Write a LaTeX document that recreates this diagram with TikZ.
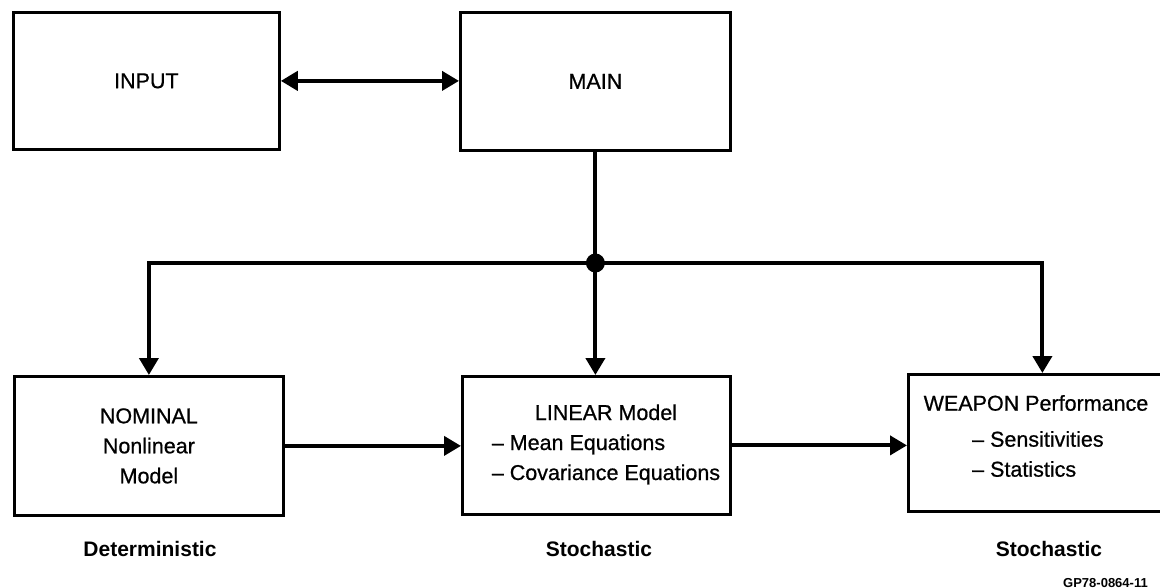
\documentclass[tikz,border=0pt]{standalone}
\usepackage{fontspec}
\setmainfont{Liberation Sans}
\newfontfamily\medfont[FakeBold=0.7]{Liberation Sans}
\usetikzlibrary{arrows.meta}
\begin{document}
\begin{tikzpicture}[x=1pt,y=-1pt,
  box/.style={draw=black, line width=2.8pt, inner sep=0pt, anchor=north west,
    font=\medfont\fontsize{21.5}{30}\selectfont, align=center},
  txt/.style={inner sep=0pt, font=\medfont\fontsize{21.5}{30}\selectfont},
  lbl/.style={inner sep=0pt, font=\fontsize{21}{25}\selectfont\bfseries},
  tip/.tip={Triangle[length=17pt,width=19pt]},
  conn/.style={line width=4pt, -tip},
  dconn/.style={line width=4pt, tip-tip},
  bus/.style={line width=4pt}]
\useasboundingbox (0,0) rectangle (1160,588);
% boxes
\node[box, minimum width=266pt, minimum height=137pt] (input) at (12,11) {INPUT};
\node[box, minimum width=270pt, minimum height=138pt] (main) at (459,11) {MAIN};
\node[box, minimum width=269pt, minimum height=139pt] (nominal) at (13,375) {NOMINAL\\Nonlinear\\Model};
\node[box, minimum width=268pt, minimum height=138pt] (linear) at (461,375) {};
\node[box, minimum width=268pt, minimum height=137pt] (weapon) at (907,373) {};
% box texts
\node[txt] (ltext) at (606,444) {\begin{tabular}{@{}l@{}}\multicolumn{1}{@{}c@{}}{LINEAR Model}\\\textendash\ Mean Equations\\\textendash\ Covariance Equations\end{tabular}};
\node[txt] (w1) at (1036,403) {WEAPON Performance};
\node[txt, anchor=west] (w2) at (972,439) {\textendash\ Sensitivities};
\node[txt, anchor=west] (w3) at (972,469) {\textendash\ Statistics};
% junction
\coordinate (busy) at (0,263);
\node[circle, fill=black, inner sep=0pt, minimum size=19pt] (jn) at (main.south |- busy) {};
% connectors
\draw[dconn] (input.east) -- (input.east -| main.west);
\draw[bus] (main.south) -- (jn.center);
\draw[conn] (jn.center) -- (jn.center |- linear.north);
\draw[conn] (jn.center) -| (nominal.north);
\draw[conn] (jn.center) -| (weapon.north);
\draw[conn] (nominal.east) -- (nominal.east -| linear.west);
\draw[conn] (linear.east) -- (linear.east -| weapon.west);
% labels
\node[lbl] (det) at (150,549) {Deterministic};
\node[lbl] (sto1) at (599,549) {Stochastic};
\node[lbl] (sto2) at (1049,549) {Stochastic};
\node[inner sep=0pt, anchor=west, font=\fontsize{13}{15}\selectfont\bfseries] (gp) at (1063,583) {GP78-0864-11};
\end{tikzpicture}
\end{document}
